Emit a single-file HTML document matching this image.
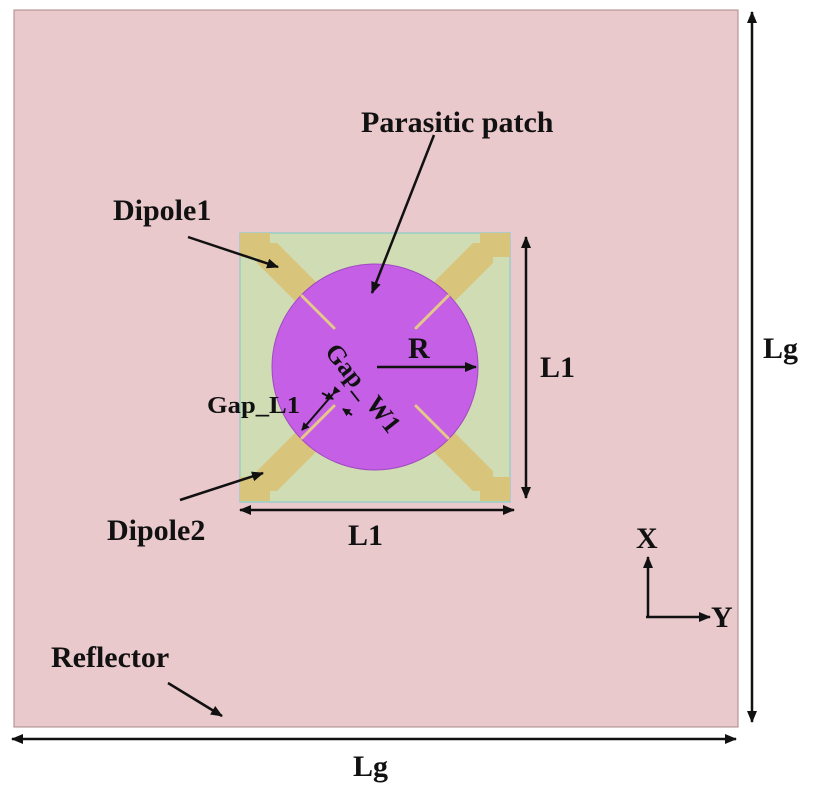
<!DOCTYPE html>
<html><head><style>body{margin:0;background:#fff}svg{display:block}text{font-family:"Liberation Serif",serif;font-weight:bold;fill:#111}</style></head>
<body>
<svg width="821" height="800" viewBox="0 0 821 800" xmlns="http://www.w3.org/2000/svg">
<defs>
<marker id="a" markerWidth="8" markerHeight="8" refX="7" refY="4" orient="auto" markerUnits="userSpaceOnUse" viewBox="0 0 8 8"><path d="M0,0 L8,4 L0,8 z" fill="#111"/></marker>
<marker id="b" markerWidth="12" markerHeight="10" refX="11" refY="5" orient="auto-start-reverse" markerUnits="userSpaceOnUse" viewBox="0 0 12 10"><path d="M0,0 L12,5 L0,10 z" fill="#111"/></marker>
</defs>
<rect x="14" y="10" width="724" height="717" fill="#e9c9cc" stroke="#a88" stroke-width="1"/>
<rect x="240" y="233" width="270" height="269" fill="#d0ddb4" stroke="#7cc" stroke-width="1"/>
<g fill="#d9c47c">
<g transform="translate(375,367)">
<g id="arm">
<polygon points="-135,-134 -105,-134 -105,-124 -98,-124 -20,-46 -40,-26 -118,-104 -118,-110 -135,-110"/>
</g>
<use href="#arm" transform="scale(-1,1)"/>
<use href="#arm" transform="scale(1,-1)"/>
<use href="#arm" transform="scale(-1,-1)"/>
</g>
</g>
<circle cx="375" cy="367" r="103" fill="#c45fe6" stroke="#a04ac0" stroke-width="1"/>
<g stroke="#e3c889" stroke-width="3" stroke-linecap="round">
<line x1="302" y1="296" x2="334" y2="328"/>
<line x1="448" y1="296" x2="416" y2="328"/>
<line x1="302" y1="438" x2="334" y2="406"/>
<line x1="448" y1="438" x2="416" y2="406"/>
</g>
<g stroke="#111" stroke-width="2.5" fill="none">
<line x1="752" y1="12" x2="752" y2="722" marker-start="url(#b)" marker-end="url(#b)"/>
<line x1="12" y1="739" x2="736" y2="739" marker-start="url(#b)" marker-end="url(#b)"/>
<line x1="526" y1="237" x2="526" y2="498" marker-start="url(#b)" marker-end="url(#b)"/>
<line x1="240" y1="510" x2="514" y2="510" marker-start="url(#b)" marker-end="url(#b)"/>
<line x1="377" y1="367" x2="476" y2="367" marker-end="url(#b)"/>
<line x1="648" y1="617" x2="648" y2="557" marker-end="url(#b)"/>
<line x1="646" y1="617" x2="710" y2="617" marker-end="url(#b)"/>
<line x1="434" y1="135" x2="372" y2="293" marker-end="url(#b)"/>
<line x1="188" y1="237" x2="278" y2="267" marker-end="url(#b)"/>
<line x1="180" y1="500" x2="263" y2="473" marker-end="url(#b)"/>
<line x1="168" y1="683" x2="222" y2="716" marker-end="url(#b)"/>
<line x1="333" y1="394" x2="302" y2="430" stroke-width="2" marker-start="url(#a)" marker-end="url(#a)"/>
<line x1="322" y1="393" x2="333" y2="399" stroke-width="2" marker-end="url(#a)"/>
<line x1="352" y1="415" x2="343" y2="409" stroke-width="2" marker-end="url(#a)"/>
</g>
<g font-size="30">
<text x="361" y="132">Parasitic patch</text>
<text x="113" y="220">Dipole1</text>
<text x="107" y="540">Dipole2</text>
<text x="348" y="545">L1</text>
<text x="540" y="377">L1</text>
<text x="763" y="358">Lg</text>
<text x="353" y="776">Lg</text>
<text x="408" y="358">R</text>
<text x="51" y="667">Reflector</text>
<text x="636" y="548">X</text>
<text x="711" y="627">Y</text>
<text x="207" y="413" font-size="24" textLength="93" lengthAdjust="spacingAndGlyphs">Gap_L1</text>
<text x="0" y="0" font-size="26" transform="translate(324,352) rotate(52)" textLength="105" lengthAdjust="spacingAndGlyphs">Gap_ W1</text>
</g>
</svg>
</body></html>
